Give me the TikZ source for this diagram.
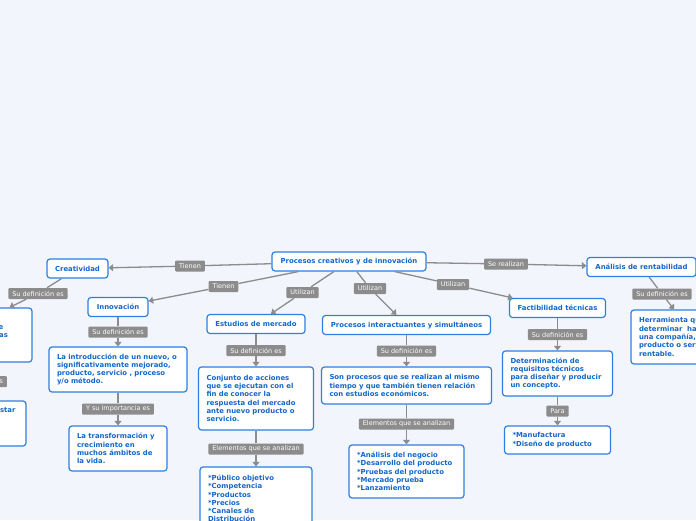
\documentclass[tikz,border=0pt]{standalone}
\usepackage{fontspec}
\setmainfont{DejaVu Sans}
\usepackage{tikz}
\usetikzlibrary{arrows.meta, positioning}
\usepackage{xcolor}
\definecolor{mapbg}{HTML}{F3F5FD}
\definecolor{mapblue}{HTML}{2D7FE0}
\definecolor{mapink}{HTML}{1466C8}
\definecolor{mapgray}{HTML}{8C8C8C}

\begin{document}
\begin{tikzpicture}[
    x=1pt, y=-1pt,
    topic/.style={draw=mapblue, line width=1.2pt, fill=white, rounded corners=3pt,
                  minimum height=19pt, inner sep=0pt, text=mapink,
                  font=\fontsize{6.9}{8.3}\selectfont\bfseries},
    note/.style={draw=mapblue, line width=1.2pt, fill=white, rounded corners=3pt,
                 inner xsep=8pt, inner ysep=0pt, align=left, text=mapink,
                 font=\fontsize{6.9}{8.3}\selectfont\bfseries},
    tag/.style={fill=mapgray, text=white, rounded corners=1pt, minimum height=11pt,
                inner xsep=4pt, inner ysep=0pt, font=\fontsize{6.5}{7}\selectfont},
    arr/.style={-{Triangle[length=4.5pt, width=7pt]}, line width=1.3pt, mapgray}
  ]
    \useasboundingbox (0,0) rectangle (696,520);
    \fill[mapbg] (0,0) rectangle (696,520);
    \clip (0,0) rectangle (696,520);

    % main topics
    \node[topic, minimum width=154pt] (root) at (349,261.5)
      {Procesos creativos y de innovación};
    \node[topic, minimum width=61pt] (crea) at (77.5,268.5) {Creatividad};
    \node[topic, minimum width=60pt] (inno) at (118,307) {Innovación};
    \node[topic, minimum width=98pt] (estu) at (256,324) {Estudios de mercado};
    \node[topic, minimum width=168pt] (proc) at (406.5,325)
      {Procesos interactuantes y simultáneos};
    \node[topic, minimum width=96pt] (fact) at (557.5,308) {Factibilidad técnicas};
    \node[topic, minimum width=109pt] (anal) at (641.5,267) {Análisis de rentabilidad};

    % descriptions
    \node[note, text width=142pt, minimum height=54pt] (credef) at (-47,335)
      {Es la capacidad de generar\\ nuevas ideas o conceptos, o de\\
       nuevas asociaciones entre ideas\\ y conceptos conocidos, que\\
       llevan a soluciones nuevas.};
    \node[note, text width=135.3pt, minimum height=45pt] (creimp) at (-49.65,423.5)
      {Impulsa el progreso y el bienestar\\ de las personas, las empresas\\
       y la sociedad en\\ general.};
    \node[note, text width=122pt, minimum height=45pt] (innodef) at (118,369.5)
      {La introducción de un nuevo, o\\ significativamente mejorado,\\
       producto, servicio , proceso\\ y/o método.};
    \node[note, text width=82pt, minimum height=45pt] (innoimp) at (118,448.5)
      {La transformación y\\ crecimiento en\\ muchos ámbitos de\\ la vida.};
    \node[note, text width=99pt, minimum height=63pt] (estdef) at (256,398.5)
      {Conjunto de acciones\\ que se ejecutan con el\\ fin de conocer la\\
       respuesta del mercado\\ ante nuevo producto o\\ servicio.};
    \node[note, text width=96pt, minimum height=63pt] (estelem) at (256,498.5)
      {{*}Público objetivo\\ {*}Competencia\\ {*}Productos\\ {*}Precios\\
       {*}Canales de\\ Distribución};
    \node[note, text width=154pt, minimum height=37pt] (procdef) at (406.5,385.5)
      {Son procesos que se realizan al mismo\\ tiempo y que también tienen relación\\
       con estudios económicos.};
    \node[note, text width=99pt, minimum height=53pt] (procelem) at (406.5,471.5)
      {{*}Análisis del negocio\\ {*}Desarrollo del producto\\ {*}Pruebas del producto\\
       {*}Mercado prueba\\ {*}Lanzamiento};
    \node[note, text width=94pt, minimum height=45pt] (factdef) at (557.5,373.5)
      {Determinación de\\ requisitos técnicos\\ para diseñar y producir\\ un concepto.};
    \node[note, text width=90pt, minimum height=28pt] (factpara) at (557.5,440)
      {{*}Manufactura\\ {*}Diseño de producto};
    \node[note, text width=113pt, minimum height=54pt] (anadef) at (695.5,337)
      {Herramienta que permite\\ determinar\ \ hasta qué punto\\ una compañía, un\\
       producto o servicio es\\ rentable.};

    % connector labels
    \node[tag] (tien1) at (190,266) {Tienen};
    \node[tag] (tien2) at (223.5,286.5) {Tienen};
    \node[tag] (util1) at (302.5,292.5) {Utilizan};
    \node[tag] (util2) at (370,288.5) {Utilizan};
    \node[tag] (util3) at (453,284.5) {Utilizan};
    \node[tag] (real) at (506,264) {Se realizan};
    \node[tag] (credefl) at (38,293.5) {Su definición es};
    \node[tag] (creimpl) at (-29,381.5) {Y su importancia es};
    \node[tag] (innodefl) at (118,332) {Su definición es};
    \node[tag] (innoimpl) at (118,409) {Y su importancia es};
    \node[tag] (estdefl) at (256,350.5) {Su definición es};
    \node[tag] (estelel) at (256,449) {Elementos que se analizan};
    \node[tag] (procdefl) at (406.5,351) {Su definición es};
    \node[tag] (procelel) at (406.5,424) {Elementos que se analizan};
    \node[tag] (factdefl) at (557.5,334.5) {Su definición es};
    \node[tag] (factparl) at (557.5,411) {Para};
    \node[tag] (anadefl) at (662,294) {Su definición es};

    % connectors
    \draw[arr] (root) -- (tien1) -- (crea);
    \draw[arr] (root) -- (tien2) -- (inno);
    \draw[arr] (root) -- (util1) -- (estu);
    \draw[arr] (root) -- (util2) -- (proc);
    \draw[arr] (root) -- (util3) -- (fact);
    \draw[arr] (root) -- (real) -- (anal);
    \draw[arr] (crea) -- (credefl) -- (credef);
    \draw[arr] (credef) -- (creimpl) -- (creimp);
    \draw[arr] (inno) -- (innodefl) -- (innodef);
    \draw[arr] (innodef) -- (innoimpl) -- (innoimp);
    \draw[arr] (estu) -- (estdefl) -- (estdef);
    \draw[arr] (estdef) -- (estelel) -- (estelem);
    \draw[arr] (proc) -- (procdefl) -- (procdef);
    \draw[arr] (procdef) -- (procelel) -- (procelem);
    \draw[arr] (fact) -- (factdefl) -- (factdef);
    \draw[arr] (factdef) -- (factparl) -- (factpara);
    \draw[arr] (anal) -- (anadefl) -- (anadef);
  \end{tikzpicture}
\end{document}
